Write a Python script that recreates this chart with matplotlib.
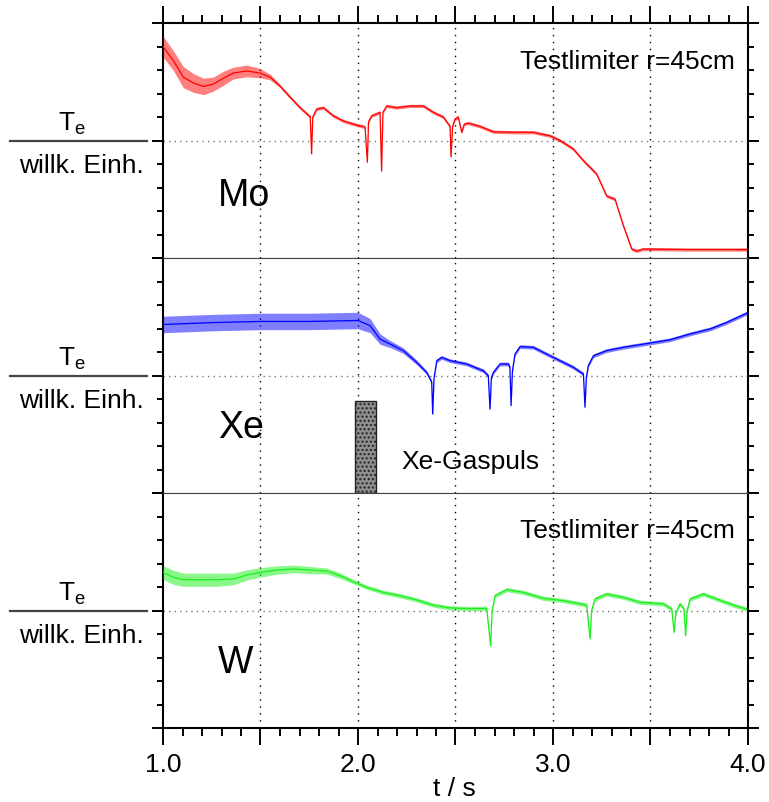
import numpy as np
import matplotlib
matplotlib.use("Agg")
import matplotlib.pyplot as plt

plt.rcParams['font.family'] = ['Liberation Sans', 'DejaVu Sans']
plt.rcParams['mathtext.fontset'] = 'custom'
plt.rcParams['mathtext.rm'] = 'Liberation Sans'

# ---------------- data ----------------
x_ticks = [1.0, 1.5, 2.0, 2.5, 3.0, 3.5, 4.0]
x_ticklabels = ['1.0', '', '2.0', '', '3.0', '', '4.0']
x_label = 't / s'
y_label_num = r'$\mathregular{T_e}$'
y_label_den = 'willk. Einh.'

# Mo (top)
mo_t = [1.000, 1.053, 1.104, 1.155, 1.207, 1.258, 1.310, 1.360, 1.430, 1.497, 1.549, 1.600, 1.651, 1.703,
        1.755, 1.762, 1.768, 1.788, 1.822, 1.873, 1.925, 1.976, 2.036, 2.048, 2.054, 2.070, 2.113, 2.121,
        2.128, 2.147, 2.198, 2.267, 2.335, 2.386, 2.437, 2.472, 2.477, 2.485, 2.497, 2.514, 2.532, 2.545,
        2.566, 2.626, 2.694, 2.814, 2.899, 2.985, 3.036, 3.104, 3.156, 3.224, 3.275, 3.318, 3.361, 3.404,
        3.430, 3.463, 3.700, 3.993]
mo_v = [9.0, 8.4, 7.7, 7.45, 7.3, 7.4, 7.65, 7.87, 7.96, 7.87, 7.7, 7.32, 6.85, 6.4,
        6.0, 4.43, 6.0, 6.34, 6.4, 6.05, 5.83, 5.7, 5.57, 4.08, 5.8, 6.05, 6.2, 3.7,
        6.2, 6.47, 6.4, 6.47, 6.47, 6.2, 6.0, 5.6, 4.3, 5.6, 5.9, 6.0, 5.35, 5.7,
        5.74, 5.6, 5.37, 5.35, 5.35, 5.2, 5.0, 4.64, 4.14, 3.57, 2.64, 2.5, 1.37, 0.38,
        0.3, 0.38, 0.36, 0.36]
mo_noise = [0.45, 0.42, 0.45, 0.4, 0.35, 0.3, 0.3, 0.25, 0.25, 0.2, 0.12] + [0.07] * 49

# Xe (middle)
xe_t = [1.000, 1.250, 1.500, 1.750, 2.000, 2.062, 2.113, 2.164, 2.232, 2.301, 2.352, 2.378, 2.383, 2.390,
        2.404, 2.429, 2.472, 2.557, 2.643, 2.668, 2.677, 2.684, 2.694, 2.728, 2.771, 2.779, 2.785, 2.792,
        2.805, 2.831, 2.899, 2.968, 3.036, 3.104, 3.156, 3.164, 3.171, 3.181, 3.207, 3.275, 3.361, 3.497,
        3.600, 3.703, 3.805, 3.891, 3.993]
xe_v = [7.17, 7.25, 7.3, 7.3, 7.34, 7.12, 6.55, 6.34, 6.06, 5.56, 5.13, 4.72, 3.36, 4.9,
        5.63, 5.77, 5.63, 5.49, 5.2, 4.99, 3.57, 4.9, 5.13, 5.49, 5.49, 5.35, 3.72, 5.2,
        5.91, 6.23, 6.2, 5.91, 5.63, 5.35, 5.06, 3.65, 4.9, 5.42, 5.84, 6.06, 6.2, 6.38,
        6.52, 6.77, 6.98, 7.26, 7.65]
xe_noise = [0.35, 0.35, 0.35, 0.35, 0.35, 0.3, 0.22, 0.15, 0.12, 0.1] + [0.08] * 37

# W (bottom)
w_t = [1.000, 1.053, 1.104, 1.190, 1.275, 1.360, 1.430, 1.497, 1.583, 1.668, 1.754, 1.839, 1.908, 1.976,
       2.044, 2.130, 2.215, 2.301, 2.386, 2.472, 2.574, 2.660, 2.680, 2.688, 2.703, 2.763, 2.848, 2.950,
       3.053, 3.173, 3.190, 3.198, 3.215, 3.275, 3.361, 3.446, 3.566, 3.609, 3.621, 3.630, 3.651, 3.672,
       3.680, 3.688, 3.703, 3.771, 3.839, 3.925, 3.993]
w_v = [6.62, 6.41, 6.31, 6.31, 6.31, 6.34, 6.51, 6.62, 6.72, 6.77, 6.72, 6.68, 6.48, 6.23,
       5.99, 5.77, 5.63, 5.45, 5.23, 5.11, 5.08, 5.09, 3.5, 5.0, 5.63, 5.89, 5.77, 5.52,
       5.42, 5.23, 3.79, 5.0, 5.49, 5.7, 5.56, 5.35, 5.28, 5.06, 4.07, 4.9, 5.28, 5.06,
       3.93, 5.0, 5.49, 5.7, 5.49, 5.23, 5.06]
w_noise = [0.3, 0.3, 0.28, 0.28, 0.28, 0.25, 0.22, 0.2, 0.18, 0.16, 0.15, 0.13, 0.12] + [0.09] * 36

pulse_t = [1.985, 2.092]
pulse_h = 3.91

panel_names = ['Mo', 'Xe', 'W']
panel_note = 'Testlimiter r=45cm'
pulse_label = 'Xe-Gaspuls'

series = [(mo_t, mo_v, mo_noise, '#ff0000'),
          (xe_t, xe_v, xe_noise, '#0000ff'),
          (w_t, w_v, w_noise, '#19f019')]

# ---------------- layout ----------------
FW, FH = 769, 803
fig = plt.figure(figsize=(FW / 100, FH / 100), dpi=100)
left_px, right_px = 163, 748
tops_px = [24, 259, 494]
ph = 235

def fx(px):
    return px / FW

def fy(py):
    return 1 - py / FH

axes = []
for i, top in enumerate(tops_px):
    ax = fig.add_axes([fx(left_px), fy(top + ph), (right_px - left_px) / FW, ph / FH])
    axes.append(ax)

for i, ax in enumerate(axes):
    t, v, n, col = series[i]
    t = np.array(t); v = np.array(v); n = np.array(n)
    ax.fill_between(t, v - n, v + n, color=col, alpha=0.5, lw=0, zorder=3)
    ax.plot(t, v, color=col, lw=0.9, zorder=4)
    ax.set_xlim(1.0, 4.0)
    ax.set_ylim(0, 10)

    # grid
    for xv in x_ticks[1:-1]:
        ax.axvline(xv, color='black', lw=1.0, ls=(0, (1, 4)), zorder=1)
    ax.axhline(5, color='#777777', lw=1.0, ls=(0, (1, 3)), zorder=1)

    # y ticks
    ax.set_yticks([0, 5, 10])
    ax.set_yticks(np.arange(1, 10), minor=True)
    ax.tick_params(axis='y', which='both', direction='out', left=True, right=True,
                   labelleft=False, labelright=False, width=1.4, color='black')
    ax.tick_params(axis='y', which='major', length=8)
    ax.tick_params(axis='y', which='minor', length=4.3)

    # x ticks
    ax.set_xticks(x_ticks)
    ax.set_xticks(np.arange(1.1, 4.0, 0.1), minor=True)
    ax.tick_params(axis='x', which='both', direction='out', width=1.4,
                   top=(i == 0), bottom=(i == 2), labeltop=False, labelbottom=(i == 2))
    ax.tick_params(axis='x', which='major', length=12)
    ax.tick_params(axis='x', which='minor', length=6)

    for s in ['left', 'right']:
        ax.spines[s].set_linewidth(1.5)
    ax.spines['top'].set_linewidth(1.5 if i == 0 else 0.8)
    ax.spines['top'].set_color('black' if i == 0 else '#444444')
    ax.spines['bottom'].set_linewidth(1.5 if i == 2 else 0.8)
    ax.spines['bottom'].set_color('black' if i == 2 else '#444444')

axes[2].set_xticklabels(x_ticklabels, fontsize=19)
axes[2].tick_params(axis='x', which='major', pad=5.5)

# gas pulse
axes[1].bar(pulse_t[0], pulse_h, width=pulse_t[1] - pulse_t[0], align='edge',
            facecolor='#8e8e8e', edgecolor='#222222', hatch='....', lw=1.0, zorder=2)

# texts
name_base = [206, 438, 673]
for i, top in enumerate(tops_px):
    fig.text(fx(218), fy(name_base[i]), panel_names[i], fontsize=27, va='baseline', ha='left')
    off = i * ph
    fig.text(fx(72), fy(131 + off), y_label_num, fontsize=19, va='baseline', ha='center')
    fig.text(fx(81), fy(173 + off), y_label_den, fontsize=19, va='baseline', ha='center')
    fig.add_artist(plt.Line2D([fx(10), fx(147)], [fy(142 + off), fy(142 + off)],
                              color='#444444', lw=1.6))

fig.text(fx(735), fy(69), panel_note, fontsize=19, va='baseline', ha='right')
fig.text(fx(735), fy(538), panel_note, fontsize=19, va='baseline', ha='right')
fig.text(fx(401), fy(469), pulse_label, fontsize=19, va='baseline', ha='left')
fig.text(fx(454), fy(796), x_label, fontsize=19, va='baseline', ha='center')

fig.savefig('out.png', dpi=100)
